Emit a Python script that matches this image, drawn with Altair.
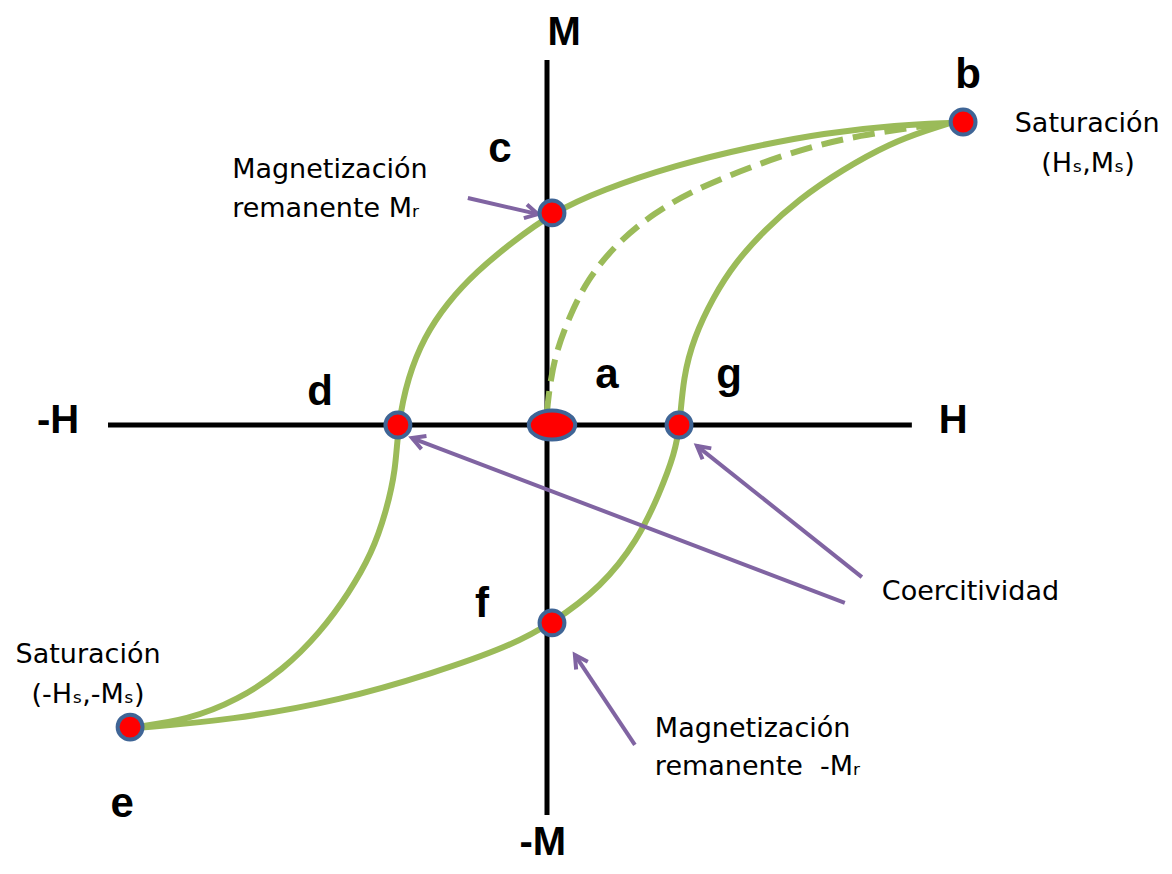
import math
import altair as alt
import pandas as pd

# ---------------- data (H, M in % of saturation values) ----------------
# descending branch: b -> c -> d -> e
desc_H = [96.8, 84.3, 66.5, 48.7, 31.0, 13.2, 1.2, -8.6, -16.8, -24.0, -29.5, -33.4,
          -35.8, -36.3, -38.7, -42.0, -47.5, -54.5, -63.4, -74.2, -86.4, -98.9]
desc_M = [99.7, 99.0, 96.4, 91.7, 85.8, 77.6, 70.0, 60.1, 50.8, 40.3, 29.0, 15.8,
          0.0, -14.9, -29.0, -42.2, -55.4, -68.6, -80.9, -90.8, -97.4, -99.7]
# ascending branch: e -> f -> g -> b
asc_H = [-98.9, -75.9, -49.2, -27.1, -9.4, 1.4, 13.0, 21.8, 27.1, 30.7, 31.9, 32.7,
         35.3, 39.9, 45.1, 52.3, 60.3, 70.8, 82.6, 91.5, 96.8]
asc_M = [-100.0, -97.4, -90.8, -81.8, -73.3, -65.3, -53.5, -38.0, -22.4, -9.2, 0.0, 15.8,
         29.0, 42.2, 53.5, 64.4, 74.3, 84.2, 93.1, 97.4, 99.7]
# initial magnetisation curve (dashed): a -> b
virgin_H = [0.0, 0.2, 1.7, 5.3, 9.6, 16.8, 25.7, 35.3, 48.7, 61.9, 75.4, 88.6, 95.8]
virgin_M = [4.0, 8.0, 22.4, 35.6, 47.9, 60.1, 70.0, 77.6, 85.1, 91.4, 95.7, 98.3, 99.7]

# key points
pt_name = ["b", "c", "d", "e", "f", "g"]
pt_H = [99.9, 1.2, -35.8, -100.1, 1.2, 31.7]
pt_M = [100.0, 70.0, 0.0, -99.7, -65.3, 0.0]
origin_H = [1.2]
origin_M = [0.0]

# axes extents
axis_h_H = [-105.4, 87.6]
axis_v_M = [-128.7, 120.5]

# letter labels
let_text = ["b", "c", "d", "a", "g", "f", "e"]
let_H = [101.1, -11.3, -54.5, 14.4, 43.7, -15.6, -102.0]
let_M = [111.2, 86.8, 6.6, 12.2, 12.2, -63.4, -129.4]

# axis names
ax_text = ["M", "-M", "-H", "H"]
ax_H = [4.1, -1.0, -117.4, 97.5]
ax_M = [125.3, -142.0, -2.6, -2.6]

# annotations centred
ann_c_text = ["Saturación", "(H\u209B,M\u209B)", "Saturación", "(-H\u209B,-M\u209B)"]
ann_c_H = [129.7, 129.9, -110.2, -110.2]
ann_c_M = [96.7, 83.5, -78.5, -91.7]
# annotations left aligned
ann_l_text = ["Magnetización", "remanente M\u1D63", "Coercitividad",
              "Magnetización", "remanente\u00a0\u00a0-M\u1D63"]
ann_l_H = [-75.6, -75.6, 80.4, 25.9, 25.9]
ann_l_M = [81.5, 68.6, -57.8, -103.0, -115.5]

# arrows (tail -> tip)
arr_tail_H = [-19.0, 71.5, 75.6, 21.1]
arr_tail_M = [74.9, -58.7, -50.2, -105.6]
arr_tip_H = [-2.2, -32.4, 36.0, 6.7]
arr_tip_M = [69.6, -4.3, -6.9, -75.9]

# ---------------- layout ----------------
W, Hh = 1156, 856
PX_H, PX_M = 4.165, 3.03          # pixels per unit
ORX, ORY = 547 - 8, 425 - 8       # origin inside the plot area
x_dom = [-ORX / PX_H, (W - ORX) / PX_H]
y_dom = [-(Hh - ORY) / PX_M, ORY / PX_M]
xs = alt.Scale(domain=x_dom, nice=False, zero=False)
ys = alt.Scale(domain=y_dom, nice=False, zero=False)

GREEN = "#9BBB59"
PURPLE = "#8064A2"
EDGE = "#3F6596"


def X(f="H"):
    return alt.X(f"{f}:Q", scale=xs, axis=None)


def Y(f="M"):
    return alt.Y(f"{f}:Q", scale=ys, axis=None)


desc = pd.DataFrame({"H": desc_H, "M": desc_M, "i": range(len(desc_H))})
asc = pd.DataFrame({"H": asc_H, "M": asc_M, "i": range(len(asc_H))})
virgin = pd.DataFrame({"H": virgin_H, "M": virgin_M, "i": range(len(virgin_H))})

axh = pd.DataFrame({"H": [axis_h_H[0]], "H2": [axis_h_H[1]], "M": [0.0]})
axv = pd.DataFrame({"H": [0.0], "M": [axis_v_M[0]], "M2": [axis_v_M[1]]})

arrows = pd.DataFrame({"H": arr_tail_H, "M": arr_tail_M, "H2": arr_tip_H, "M2": arr_tip_M})
arrows["ang"] = [
    math.degrees(math.atan2((h2 - h1) * PX_H, (m2 - m1) * PX_M)) % 360
    for h1, m1, h2, m2 in zip(arr_tail_H, arr_tail_M, arr_tip_H, arr_tip_M)
]
heads = pd.DataFrame({"H": arr_tip_H, "M": arr_tip_M, "ang": arrows["ang"]})

pts = pd.DataFrame({"H": pt_H, "M": pt_M, "name": pt_name})
orig = pd.DataFrame({"H": origin_H, "M": origin_M})

letters = pd.DataFrame({"H": let_H, "M": let_M, "t": let_text})
axnames = pd.DataFrame({"H": ax_H, "M": ax_M, "t": ax_text})
ann_c = pd.DataFrame({"H": ann_c_H, "M": ann_c_M, "t": ann_c_text})
ann_l = pd.DataFrame({"H": ann_l_H, "M": ann_l_M, "t": ann_l_text})

layers = []
layers.append(alt.Chart(axh).mark_rule(color="black", strokeWidth=5).encode(
    x=X(), x2="H2:Q", y=Y()))
layers.append(alt.Chart(axv).mark_rule(color="black", strokeWidth=5).encode(
    x=X(), y=Y(), y2="M2:Q"))
for df in (desc, asc):
    layers.append(alt.Chart(df).mark_line(
        color=GREEN, strokeWidth=6, interpolate="basis").encode(
        x=X(), y=Y(), order="i:Q"))
layers.append(alt.Chart(virgin).mark_line(
    color=GREEN, strokeWidth=6, strokeDash=[22, 10], interpolate="basis").encode(
    x=X(), y=Y(), order="i:Q"))
layers.append(alt.Chart(arrows).mark_rule(color=PURPLE, strokeWidth=4).encode(
    x=X(), y=Y(), x2="H2:Q", y2="M2:Q"))
layers.append(alt.Chart(heads).mark_point(
    shape="M-0.55,1L0,0L0.55,1", filled=False, stroke=PURPLE, strokeWidth=4,
    size=650, opacity=1, strokeJoin="miter").encode(
    x=X(), y=Y(), angle=alt.Angle("ang:Q", scale=None)))
layers.append(alt.Chart(pts).mark_point(
    shape="circle", filled=True, fill="#FF0000", stroke=EDGE, strokeWidth=4,
    size=620, opacity=1, fillOpacity=1, strokeOpacity=1).encode(x=X(), y=Y()))
layers.append(alt.Chart(orig).mark_point(
    shape="M-1.6,0A1.6,1,0,1,0,1.6,0A1.6,1,0,1,0,-1.6,0Z", filled=True,
    fill="#FF0000", stroke=EDGE, strokeWidth=4, size=841, opacity=1,
    fillOpacity=1, strokeOpacity=1).encode(x=X(), y=Y()))
layers.append(alt.Chart(letters).mark_text(
    font="Liberation Sans", fontWeight="bold", fontSize=42, color="black",
    align="center", baseline="alphabetic").encode(x=X(), y=Y(), text="t:N"))
layers.append(alt.Chart(axnames).mark_text(
    font="Liberation Sans", fontWeight="bold", fontSize=40, color="black",
    align="center", baseline="alphabetic").encode(x=X(), y=Y(), text="t:N"))
layers.append(alt.Chart(ann_c).mark_text(
    font="DejaVu Sans", fontSize=27, color="black",
    align="center", baseline="alphabetic").encode(x=X(), y=Y(), text="t:N"))
layers.append(alt.Chart(ann_l).mark_text(
    font="DejaVu Sans", fontSize=27, color="black",
    align="left", baseline="alphabetic").encode(x=X(), y=Y(), text="t:N"))

chart = alt.layer(*layers).properties(
    width=W, height=Hh, padding=0,
    autosize=alt.AutoSizeParams(type="none"),
    background="white",
).configure_view(stroke=None)

chart.save("out.html", embed_options={"renderer": "svg", "actions": False})
